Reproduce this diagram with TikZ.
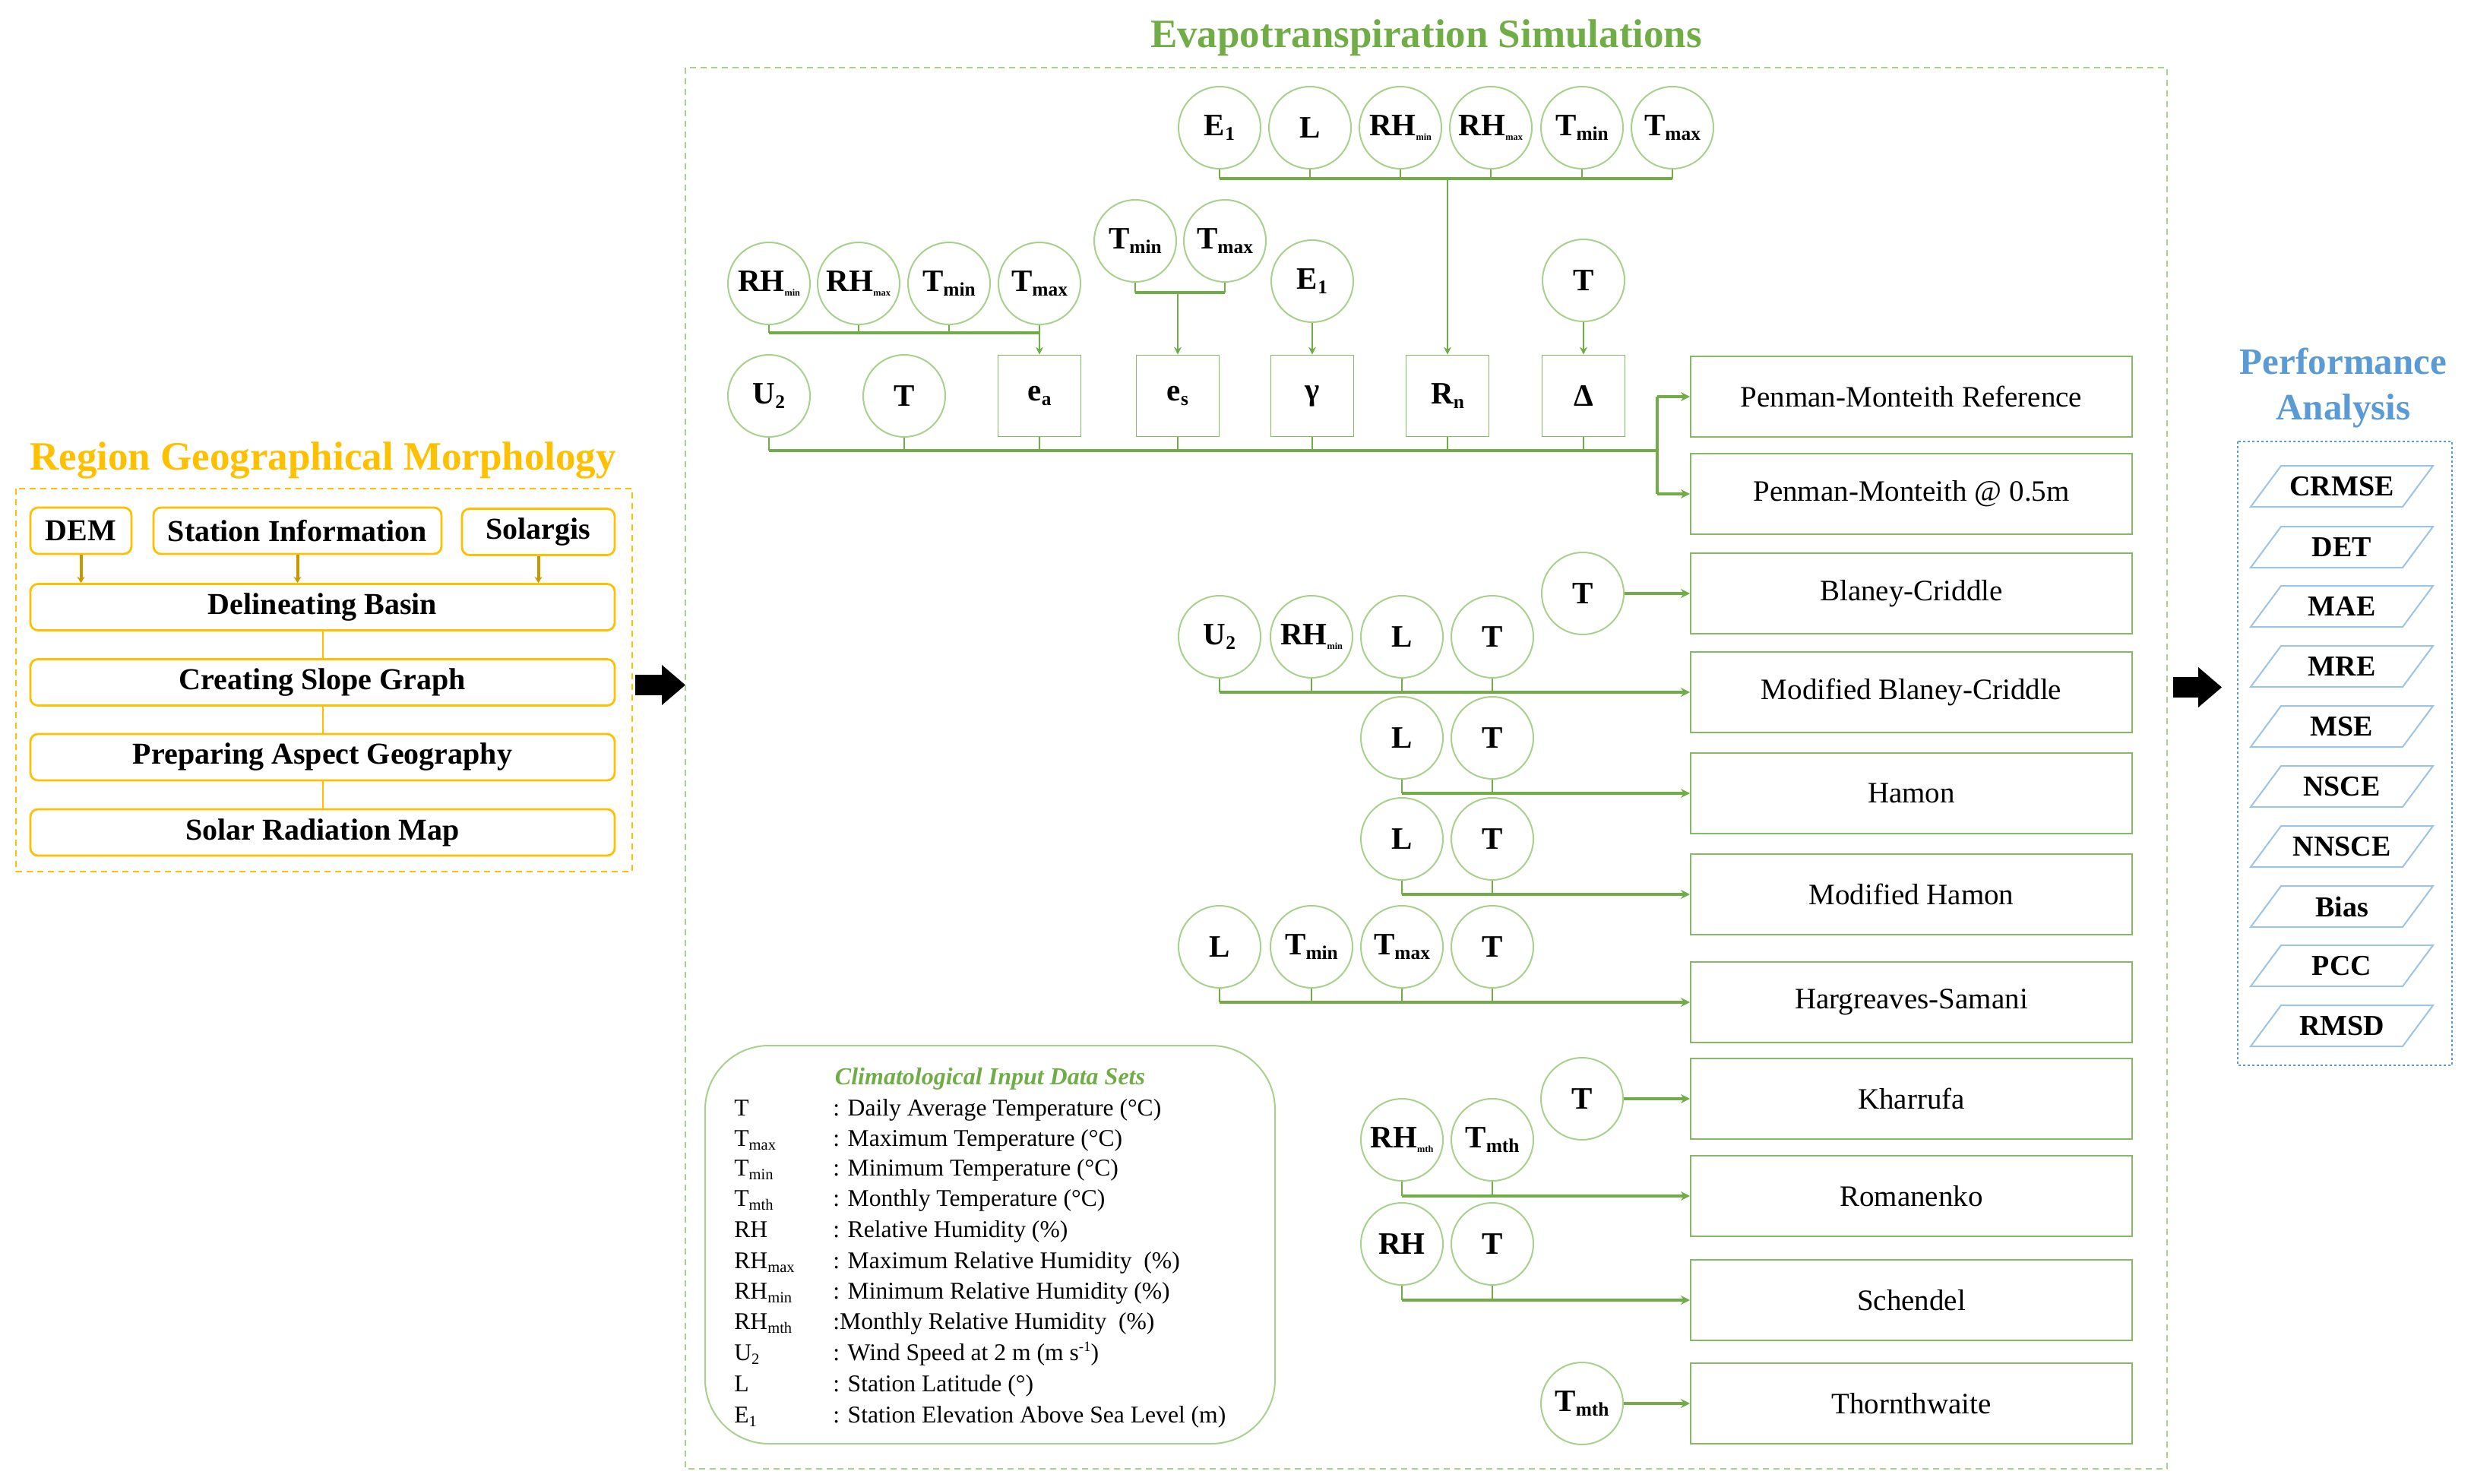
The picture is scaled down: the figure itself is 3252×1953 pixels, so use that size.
\documentclass[tikz,border=0pt]{standalone}
\usepackage{fontspec}
\setmainfont{Liberation Serif}
\usetikzlibrary{arrows.meta,calc}
\definecolor{gold}{HTML}{FFC000}
\definecolor{darkgold}{HTML}{C99700}
\definecolor{grn}{HTML}{70AD47}
\definecolor{lgrn}{HTML}{A9D18E}
\definecolor{blu}{HTML}{5B9BD5}
\definecolor{lblu}{HTML}{9DC3E6}
\newcommand\myfs[1]{\fontsize{#1}{#1}\selectfont}
\newcommand\lo[2][0.62]{\raisebox{-0.35ex}{\scalebox{#1}{#2}}}
\newcommand\hi[2][0.6]{\raisebox{0.8ex}{\scalebox{#1}{#2}}}
\begin{document}
\begin{tikzpicture}[x=0.5pt,y=-0.5pt,
 inp/.style={circle,draw=lgrn,line width=1pt,minimum size=54pt,inner sep=0pt,font=\myfs{20.5}\bfseries},
 var/.style={rectangle,draw=grn!85,line width=0.9pt,minimum width=54.5pt,minimum height=53.5pt,inner sep=0pt,font=\myfs{20.5}\bfseries},
 meth/.style={rectangle,draw=grn!85,line width=1pt,minimum width=290.5pt,minimum height=53pt,inner sep=0pt,font=\myfs{19.5}},
 stub/.style={draw=grn,line width=1pt},
 bus/.style={draw=grn,line width=2pt},
 arr/.style={bus,-{Stealth[length=6pt,width=6pt]}},
 tarr/.style={stub,-{Stealth[length=5pt,width=5pt]}},
 gbox/.style={rectangle,rounded corners=5pt,draw=gold,line width=1.4pt,minimum height=30.5pt,inner sep=0pt,font=\myfs{20}\bfseries},
 garr/.style={draw=darkgold,line width=2pt,-{Stealth[length=4pt,width=5pt]}},
 gline/.style={draw=gold,line width=1pt},
 metric/.style={font=\myfs{19}\bfseries,inner sep=0pt},
 para/.style={draw=lblu,line width=1pt},
 leg/.style={font=\myfs{15.8},inner sep=0pt,anchor=base west},
]
\useasboundingbox (0,0) rectangle (3252,1953);
\fill[white] (0,0) rectangle (3252,1953);

% ---------------- Left panel ----------------
\node[font=\myfs{26.5}\bfseries,text=gold] (rtitle) at (425,606) {Region Geographical Morphology};
\draw[gold,line width=1pt,dash pattern=on 4pt off 3pt] (21,643) rectangle (832,1147);
\node[gbox,minimum width=66.5pt] (dem) at (106.5,698.5) {DEM};
\node[gbox,minimum width=189.5pt] (sta) at (391.5,698.5) {Station Information};
\node[gbox,minimum width=100.5pt] (sol) at (708.5,700) {Solargis};
\node[gbox,minimum width=384.5pt] (delin) at (424.5,799) {Delineating Basin};
\node[gbox,minimum width=384.5pt] (slope) at (424.5,898) {Creating Slope Graph};
\node[gbox,minimum width=384.5pt] (aspect) at (424.5,996.5) {Preparing Aspect Geography};
\node[gbox,minimum width=384.5pt] (solar) at (424.5,1095.5) {Solar Radiation Map};
\draw[garr] (dem.south) -- (dem.south |- delin.north);
\draw[garr] (sta.south) -- (sta.south |- delin.north);
\draw[garr] (sol.south) -- (sol.south |- delin.north);
\draw[gline] (delin.south) -- (slope.north);
\draw[gline] (slope.south) -- (aspect.north);
\draw[gline] (aspect.south) -- (solar.north);

% block arrows
\fill[black] (836,888) rectangle (871,915);
\fill[black] (871,875) -- (902,901.5) -- (871,928) -- cycle;
\fill[black] (2860,891) rectangle (2893,918);
\fill[black] (2893,878) -- (2924,904.5) -- (2893,931) -- cycle;

% ---------------- Middle panel ----------------
\node[font=\myfs{26.5}\bfseries,text=grn] (etitle) at (1877,50) {Evapotranspiration Simulations};
\draw[lgrn,line width=1pt,dash pattern=on 4pt off 3pt] (902,89) rectangle (2852,1933);

% top row for Rn
\node[inp] (aE) at (1605,168) {E\lo{1}};
\node[inp] (aL) at (1724,168) {L};
\node[inp] (aRn) at (1843,168) {RH\lo[0.3]{min}};
\node[inp] (aRx) at (1962,168) {RH\lo[0.3]{max}};
\node[inp] (aTn) at (2082,168) {T\lo{min}};
\node[inp] (aTx) at (2201,168) {T\lo{max}};
\coordinate (bkA) at (0,235);
\foreach \n in {aE,aL,aRn,aRx,aTn,aTx} \draw[stub] (\n.south) -- (\n.south |- bkA);
\draw[bus] (aE.south |- bkA) -- (aTx.south |- bkA);

% second row for ea
\node[inp] (bRn) at (1012,373) {RH\lo[0.3]{min}};
\node[inp] (bRx) at (1130,373) {RH\lo[0.3]{max}};
\node[inp] (bTn) at (1249,373) {T\lo{min}};
\node[inp] (bTx) at (1368,373) {T\lo{max}};
\coordinate (bkB) at (0,438);
\foreach \n in {bRn,bRx,bTn} \draw[stub] (\n.south) -- (\n.south |- bkB);
\draw[bus] (bRn.south |- bkB) -- (bTx.south |- bkB);

% pair for es
\node[inp] (cTn) at (1494,317) {T\lo{min}};
\node[inp] (cTx) at (1612,317) {T\lo{max}};
\coordinate (bkC) at (0,385);
\foreach \n in {cTn,cTx} \draw[stub] (\n.south) -- (\n.south |- bkC);
\draw[bus] (cTn.south |- bkC) -- (cTx.south |- bkC);

\node[inp] (dE) at (1727,370) {E\lo{1}};
\node[inp] (dT) at (2084,369) {T};

% third row
\node[inp] (u2) at (1012,521) {U\lo{2}};
\node[inp] (t0) at (1190,521) {T};
\node[var] (ea) at (1368,521) {e\lo{a}};
\node[var] (es) at (1550,521) {e\lo{s}};
\node[var] (gam) at (1727,521) {γ};
\node[var] (rn) at (1905,521) {R\lo{n}};
\node[var] (del) at (2084,521) {Δ};

\draw[tarr] (bTx.south) -- (ea.north);
\draw[tarr] (es.north |- bkC) -- (es.north);
\draw[tarr] (dE.south) -- (gam.north);
\draw[tarr] (rn.north |- bkA) -- (rn.north);
\draw[tarr] (dT.south) -- (del.north);

\coordinate (pmj) at (2181,593);
\foreach \n in {u2,t0,ea,es,gam,rn,del} \draw[stub] (\n.south) -- (\n.south |- pmj);
\draw[bus] (u2.south |- pmj) -- (pmj);

% method boxes
\node[meth] (pmr) at (2515.5,522) {Penman-Monteith Reference};
\node[meth] (pm5) at (2515.5,650) {Penman-Monteith @ 0.5m};
\node[meth] (bc) at (2515.5,781) {Blaney-Criddle};
\node[meth] (mbc) at (2515.5,911) {Modified Blaney-Criddle};
\node[meth] (ham) at (2515.5,1044) {Hamon};
\node[meth] (mham) at (2515.5,1177) {Modified Hamon};
\node[meth] (hs) at (2515.5,1319) {Hargreaves-Samani};
\node[meth] (kh) at (2515.5,1446) {Kharrufa};
\node[meth] (rom) at (2515.5,1574) {Romanenko};
\node[meth] (sch) at (2515.5,1711) {Schendel};
\node[meth] (tho) at (2515.5,1847) {Thornthwaite};

\draw[bus] (pmj |- pmr.west) -- (pmj |- pm5.west);
\draw[arr] (pmj |- pmr.west) -- (pmr.west);
\draw[arr] (pmj |- pm5.west) -- (pm5.west);

% Blaney-Criddle
\node[inp] (bcT) at (2083,781) {T};
\draw[arr] (bcT.east) -- (bc.west);

% Modified Blaney-Criddle
\node[inp] (mU) at (1605,838) {U\lo{2}};
\node[inp] (mR) at (1726,838) {RH\lo[0.3]{min}};
\node[inp] (mL) at (1845,838) {L};
\node[inp] (mT) at (1964,838) {T};
\foreach \n in {mU,mR,mL,mT} \draw[stub] (\n.south) -- (\n.south |- mbc.west);
\draw[arr] (mU.south |- mbc.west) -- (mbc.west);

% Hamon
\node[inp] (hL) at (1845,971) {L};
\node[inp] (hT) at (1964,971) {T};
\foreach \n in {hL,hT} \draw[stub] (\n.south) -- (\n.south |- ham.west);
\draw[arr] (hL.south |- ham.west) -- (ham.west);

% Modified Hamon
\node[inp] (gL) at (1845,1104) {L};
\node[inp] (gT) at (1964,1104) {T};
\foreach \n in {gL,gT} \draw[stub] (\n.south) -- (\n.south |- mham.west);
\draw[arr] (gL.south |- mham.west) -- (mham.west);

% Hargreaves-Samani
\node[inp] (sL) at (1605,1246) {L};
\node[inp] (sTn) at (1726,1246) {T\lo{min}};
\node[inp] (sTx) at (1845,1246) {T\lo{max}};
\node[inp] (sT) at (1964,1246) {T};
\foreach \n in {sL,sTn,sTx,sT} \draw[stub] (\n.south) -- (\n.south |- hs.west);
\draw[arr] (sL.south |- hs.west) -- (hs.west);

% Kharrufa
\node[inp] (kT) at (2082,1446) {T};
\draw[arr] (kT.east) -- (kh.west);

% Romanenko
\node[inp] (rR) at (1845,1500) {RH\lo[0.3]{mth}};
\node[inp] (rT) at (1964,1500) {T\lo{mth}};
\foreach \n in {rR,rT} \draw[stub] (\n.south) -- (\n.south |- rom.west);
\draw[arr] (rR.south |- rom.west) -- (rom.west);

% Schendel
\node[inp] (cR) at (1845,1637) {RH};
\node[inp] (cT) at (1964,1637) {T};
\foreach \n in {cR,cT} \draw[stub] (\n.south) -- (\n.south |- sch.west);
\draw[arr] (cR.south |- sch.west) -- (sch.west);

% Thornthwaite
\node[inp] (oT) at (2082,1847) {T\lo{mth}};
\draw[arr] (oT.east) -- (tho.west);

% legend
\node[draw=lgrn,line width=1pt,rounded corners=42pt,minimum width=375pt,minimum height=262pt,inner sep=0pt] (legbox) at (1303,1638) {};
\node[font=\myfs{16}\bfseries\itshape,text=grn] (legtitle) at (1303,1420) {Climatological Input Data Sets};
\node[leg] (s1) at (966,1468) {T};
\node[leg] (d1) at (1096,1468) {: Daily Average Temperature (°C)};
\node[leg] (s2) at (966,1508) {T\lo[0.65]{max}};
\node[leg] (d2) at (1096,1508) {: Maximum Temperature (°C)};
\node[leg] (s3) at (966,1547) {T\lo[0.65]{min}};
\node[leg] (d3) at (1096,1547) {: Minimum Temperature (°C)};
\node[leg] (s4) at (966,1587) {T\lo[0.65]{mth}};
\node[leg] (d4) at (1096,1587) {: Monthly Temperature (°C)};
\node[leg] (s5) at (966,1628) {RH};
\node[leg] (d5) at (1096,1628) {: Relative Humidity (\%)};
\node[leg] (s6) at (966,1669) {RH\lo[0.65]{max}};
\node[leg] (d6) at (1096,1669) {: Maximum Relative Humidity \ (\%)};
\node[leg] (s7) at (966,1709) {RH\lo[0.65]{min}};
\node[leg] (d7) at (1096,1709) {: Minimum Relative Humidity (\%)};
\node[leg] (s8) at (966,1749) {RH\lo[0.65]{mth}};
\node[leg] (d8) at (1096,1749) {:Monthly Relative Humidity \ (\%)};
\node[leg] (s9) at (966,1790) {U\lo[0.65]{2}};
\node[leg] (d9) at (1096,1790) {: Wind Speed at 2 m (m s\hi{-1})};
\node[leg] (s10) at (966,1831) {L};
\node[leg] (d10) at (1096,1831) {: Station Latitude (°)};
\node[leg] (s11) at (966,1872) {E\lo[0.65]{1}};
\node[leg] (d11) at (1096,1872) {: Station Elevation Above Sea Level (m)};

% ---------------- Right panel ----------------
\node[font=\fontsize{24.5}{30}\selectfont\bfseries,text=blu,align=center] (ptitle) at (3084,511) {Performance\\Analysis};
\draw[blu,line width=1pt,dash pattern=on 1.5pt off 1.5pt] (2945,581) rectangle (3227,1402);
\foreach \nm/\y/\t in {m1/640/CRMSE,m2/720/DET,m3/798/MAE,m4/877/MRE,m5/956/MSE,m6/1035/NSCE,m7/1114/NNSCE,m8/1193/Bias,m9/1271/PCC,m10/1350/RMSD}{
  \node[metric] (\nm) at (3082,\y) {\t};
  \draw[para] ($(\nm.center)+(-120,27)$) -- ++(200,0) -- ++(40,-54) -- ++(-200,0) -- cycle;
}
\end{tikzpicture}
\end{document}
